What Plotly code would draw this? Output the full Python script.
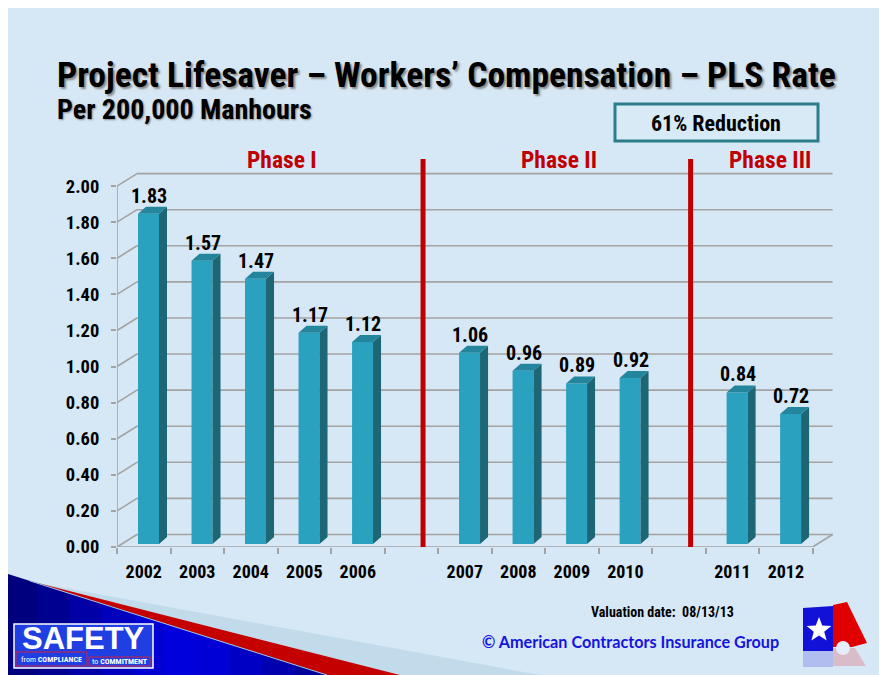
import math
import plotly.graph_objects as go

# ---------------- data ----------------
phase_names = ["Phase I", "Phase II", "Phase III"]
phase_years = [["2002", "2003", "2004", "2005", "2006"],
               ["2007", "2008", "2009", "2010"],
               ["2011", "2012"]]
phase_rates = [[1.83, 1.57, 1.47, 1.17, 1.12],
               [1.06, 0.96, 0.89, 0.92],
               [0.84, 0.72]]
y_tick_values = [0.0, 0.2, 0.4, 0.6, 0.8, 1.0, 1.2, 1.4, 1.6, 1.8, 2.0]
title_text = "Project Lifesaver \u2013 Workers\u2019 Compensation \u2013 PLS Rate"
subtitle_text = "Per 200,000 Manhours"
reduction_text = "61% Reduction"
valuation_text = "Valuation date:  08/13/13"
copyright_text = "\u00a9 American Contractors Insurance Group"

# ---------------- layout geometry (window pixels; page body has an 8px margin) ----------------
OFF = 8
FIG_W, FIG_H = 887 - OFF, 675 - OFF
PL, PR, PT, PB = 117, 834, 150, 547          # plot area in window pixels
PW, PH = PR - PL, PB - PT
XMIN, XMAX = -0.5, 12.9
YMIN, YMAX = 0.0, 2.2
UX = PW / (XMAX - XMIN)   # px per x unit
UY = PH / (YMAX - YMIN)   # px per y unit


def px_x(px):
    return (px - PL) / PW


def px_y(py):
    return (PB - py) / PH


NARROW = "Roboto Condensed, Liberation Sans Narrow, Arial Narrow, sans-serif"
FRONT = "#2AA1BF"
SIDE = "#1D6675"
TOP = "#24869D"
GRID = "#A3A3A3"
DARKRED = "#C00000"
BG = "#D6E7F5"

# build slot positions (one empty slot between phases)
slots, years, rates, gaps = [], [], [], []
pos = 0
for pi, (ys, rs) in enumerate(zip(phase_years, phase_rates)):
    for yv, rv in zip(ys, rs):
        slots.append(pos)
        years.append(yv)
        rates.append(rv)
        pos += 1
    if pi < len(phase_years) - 1:
        gaps.append(pos)
        pos += 1
n_slots = pos

BAR_OFF, BAR_W = -0.107, 0.392
BASE = 3 / UY
BDX, BDY = 8 / UX, 7 / UY          # bar depth
WDX, WDY = 20 / UX, 12.5 / UY      # wall depth

fig = go.Figure()
fig.add_trace(go.Bar(x=slots, y=rates, base=BASE, width=BAR_W, offset=BAR_OFF,
                     marker=dict(color=FRONT, line=dict(width=0)), hoverinfo="skip"))

side_x, side_y, top_x, top_y = [], [], [], []
for s, v in zip(slots, rates):
    xl = s + BAR_OFF
    xr = xl + BAR_W
    yt = BASE + v
    side_x += [xr, xr, xr + BDX, xr + BDX, xr, None]
    side_y += [BASE, yt, yt + BDY, BASE + BDY, BASE, None]
    top_x += [xl, xr, xr + BDX, xl + BDX, xl, None]
    top_y += [yt, yt, yt + BDY, yt + BDY, yt, None]
fig.add_trace(go.Scatter(x=side_x, y=side_y, mode="lines", fill="toself", fillcolor=SIDE,
                         line=dict(width=0, color=SIDE), hoverinfo="skip"))
fig.add_trace(go.Scatter(x=top_x, y=top_y, mode="lines", fill="toself", fillcolor=TOP,
                         line=dict(width=0, color=TOP), hoverinfo="skip"))

shapes = []
# walls / gridlines
x_back_l = XMIN + WDX
x_back_r = (n_slots - 0.5) + WDX
for v in y_tick_values:
    shapes.append(dict(type="line", xref="x", yref="y", x0=x_back_l, x1=x_back_r, y0=v + WDY, y1=v + WDY,
                       line=dict(color=GRID, width=1.6), layer="below"))
    shapes.append(dict(type="line", xref="x", yref="y", x0=XMIN, x1=x_back_l, y0=v, y1=v + WDY,
                       line=dict(color=GRID, width=1.6), layer="below"))
shapes.append(dict(type="line", xref="x", yref="y", x0=XMIN, x1=XMIN, y0=0, y1=y_tick_values[-1],
                   line=dict(color=GRID, width=1.6), layer="below"))
shapes.append(dict(type="line", xref="x", yref="y", x0=XMIN, x1=n_slots - 0.5, y0=0, y1=0,
                   line=dict(color=GRID, width=1.6), layer="below"))
shapes.append(dict(type="line", xref="x", yref="y", x0=n_slots - 0.5, x1=x_back_r, y0=0, y1=WDY,
                   line=dict(color=GRID, width=1.6), layer="below"))

# phase separators
for g in gaps:
    shapes.append(dict(type="line", xref="x", yref="y", x0=g + 0.22, x1=g + 0.22,
                       y0=-28 / UY, y1=2.15, line=dict(color=DARKRED, width=5)))

# reduction box
shapes.append(dict(type="rect", xref="paper", yref="paper", x0=px_x(615), x1=px_x(818), y0=px_y(104), y1=px_y(141),
                   fillcolor="#D9EAF7", line=dict(color="#2B7D8C", width=3)))


def poly(points, color, **kw):
    path = "M " + " L ".join(f"{px_x(a):.5f},{px_y(b):.5f}" for a, b in points) + " Z"
    d = dict(type="path", xref="paper", yref="paper", path=path, fillcolor=color, line=dict(width=0))
    d.update(kw)
    return d


# bottom-left swoosh
shapes.append(poly([(5, 577), (540, 675), (5, 675)], "#C2DBEA"))
shapes.append(poly([(30, 581), (400, 675), (327, 675)], "#C40000"))


def blue_edge(x):
    return 573 + (x - 5) * (102 / 322)


blue_cols = ["#00007E", "#000090", "#0000A6", "#0000BE", "#0000D2", "#0000DC", "#0000D6", "#0000C4", "#0000AE", "#00009A"]
nb = len(blue_cols)
for i, c in enumerate(blue_cols):
    xa = 5 + (322 / nb) * i
    xb = 5 + (322 / nb) * (i + 1) + 0.8
    shapes.append(poly([(xa, blue_edge(xa)), (xb, blue_edge(xb)), (xb, 675), (xa, 675)], c))
shapes.append(dict(type="line", xref="paper", yref="paper", x0=px_x(30), y0=px_y(blue_edge(30)),
                   x1=px_x(327), y1=px_y(675), line=dict(color="#9FC3DD", width=1)))

# SAFETY logo
shapes.append(dict(type="rect", xref="paper", yref="paper", x0=px_x(14), x1=px_x(153), y0=px_y(624), y1=px_y(668),
                   fillcolor="#1F3FE3", line=dict(color="white", width=1.5)))
shapes.append(dict(type="rect", xref="paper", yref="paper", x0=px_x(16), x1=px_x(87), y0=px_y(652), y1=px_y(666),
                   fillcolor="rgba(0,0,0,0)", line=dict(color="#D02040", width=1)))
shapes.append(dict(type="rect", xref="paper", yref="paper", x0=px_x(89), x1=px_x(150), y0=px_y(657), y1=px_y(666),
                   fillcolor="rgba(0,0,0,0)", line=dict(color="#D02040", width=1)))

# ACIG logo
shapes.append(poly([(803, 651), (833, 651), (833, 667), (803, 667)], "rgba(40,40,220,0.22)"))
shapes.append(poly([(833, 648), (855, 648), (866, 666), (833, 666)], "rgba(230,0,0,0.18)"))
shapes.append(poly([(803, 608), (833, 606), (833, 651), (803, 651)], "#1111D8"))
shapes.append(poly([(833, 605), (847, 602), (867, 643), (852, 647), (833, 647)], "#E00000"))
shapes.append(dict(type="circle", xref="paper", yref="paper", x0=px_x(836), x1=px_x(850), y0=px_y(641), y1=px_y(655),
                   fillcolor="#E4EEF8", line=dict(width=0)))
star = []
for k in range(10):
    ang = -math.pi / 2 + k * math.pi / 5
    rr = 13 if k % 2 == 0 else 5.5
    star.append((819 + rr * math.cos(ang), 630 + rr * math.sin(ang)))
shapes.append(poly(star, "white"))

annotations = []
annotations.append(dict(xref="paper", yref="paper", x=px_x(55), y=px_y(75), xanchor="left", yanchor="middle",
                        text=title_text, showarrow=False,
                        font=dict(family=NARROW, size=35.5, color="black", weight="bold", shadow="2px 2px 2px #8a8a8a")))
annotations.append(dict(xref="paper", yref="paper", x=px_x(55), y=px_y(110), xanchor="left", yanchor="middle",
                        text=subtitle_text, showarrow=False,
                        font=dict(family=NARROW, size=28, color="black", weight="bold", shadow="1px 1px 2px #8a8a8a")))
annotations.append(dict(xref="paper", yref="paper", x=px_x(716), y=px_y(123), xanchor="center", yanchor="middle",
                        text=reduction_text, showarrow=False,
                        font=dict(family=NARROW, size=22, color="black", weight="bold")))
phase_label_px = [282, 559, 770]
for name, pxv in zip(phase_names, phase_label_px):
    annotations.append(dict(xref="paper", yref="paper", x=px_x(pxv), y=px_y(160), xanchor="center", yanchor="middle",
                            text=name, showarrow=False,
                            font=dict(family=NARROW, size=23.5, color=DARKRED, weight="bold")))
for s, v in zip(slots, rates):
    annotations.append(dict(xref="x", yref="y", x=s + 0.1, y=BASE + v + BDY, xanchor="center", yanchor="bottom",
                            yshift=-3, text=f"{v:.2f}", showarrow=False,
                            font=dict(family=NARROW, size=20, color="black", weight="bold")))
annotations.append(dict(xref="paper", yref="paper", x=px_x(662), y=px_y(612), xanchor="center", yanchor="middle",
                        text=valuation_text, showarrow=False,
                        font=dict(family=NARROW, size=14, color="black", weight="bold")))
annotations.append(dict(xref="paper", yref="paper", x=px_x(630), y=px_y(641), xanchor="center", yanchor="middle",
                        text=copyright_text, showarrow=False,
                        font=dict(family="Lato, Open Sans, sans-serif", size=16.2, color="#1414E0", weight="bold")))
annotations.append(dict(xref="paper", yref="paper", x=px_x(83), y=px_y(638), xanchor="center", yanchor="middle",
                        text="SAFETY", showarrow=False, height=26, valign="middle",
                        font=dict(family="Liberation Sans, Arial, sans-serif", size=31, color="white", weight="bold")))
annotations.append(dict(xref="paper", yref="paper", x=px_x(51), y=px_y(659), xanchor="center", yanchor="middle",
                        text="from <b>COMPLIANCE</b>", showarrow=False, height=10,
                        font=dict(family=NARROW, size=8, color="white")))
annotations.append(dict(xref="paper", yref="paper", x=px_x(120), y=px_y(661), xanchor="center", yanchor="middle",
                        text="to <b>COMMITMENT</b>", showarrow=False, height=10,
                        font=dict(family=NARROW, size=8, color="white")))

fig.update_layout(
    width=FIG_W, height=FIG_H, autosize=False,
    margin=dict(l=PL - OFF, r=FIG_W - (PR - OFF), t=PT - OFF, b=FIG_H - (PB - OFF), pad=0),
    paper_bgcolor=BG, plot_bgcolor="rgba(0,0,0,0)",
    showlegend=False, barmode="overlay",
    shapes=shapes, annotations=annotations,
    xaxis=dict(range=[XMIN, XMAX], tickmode="array", tickvals=slots, ticktext=years,
               ticks="", showgrid=False, zeroline=False, showline=False,
               tickfont=dict(family=NARROW, size=18, color="black", weight="bold"),
               ticklabelstandoff=12,
               minor=dict(tickmode="array", tickvals=[i - 0.5 for i in range(n_slots + 1)],
                          ticks="outside", ticklen=6, tickcolor=GRID, tickwidth=1.5, showgrid=False)),
    yaxis=dict(range=[YMIN, YMAX], tickmode="array", tickvals=y_tick_values, tickformat=".2f",
               ticks="outside", ticklen=5, tickcolor=GRID, tickwidth=1.5,
               showgrid=False, zeroline=False, showline=False,
               tickfont=dict(family=NARROW, size=18.5, color="black", weight="bold"),
               ticklabelstandoff=8),
)

fig.write_html("out.html")
